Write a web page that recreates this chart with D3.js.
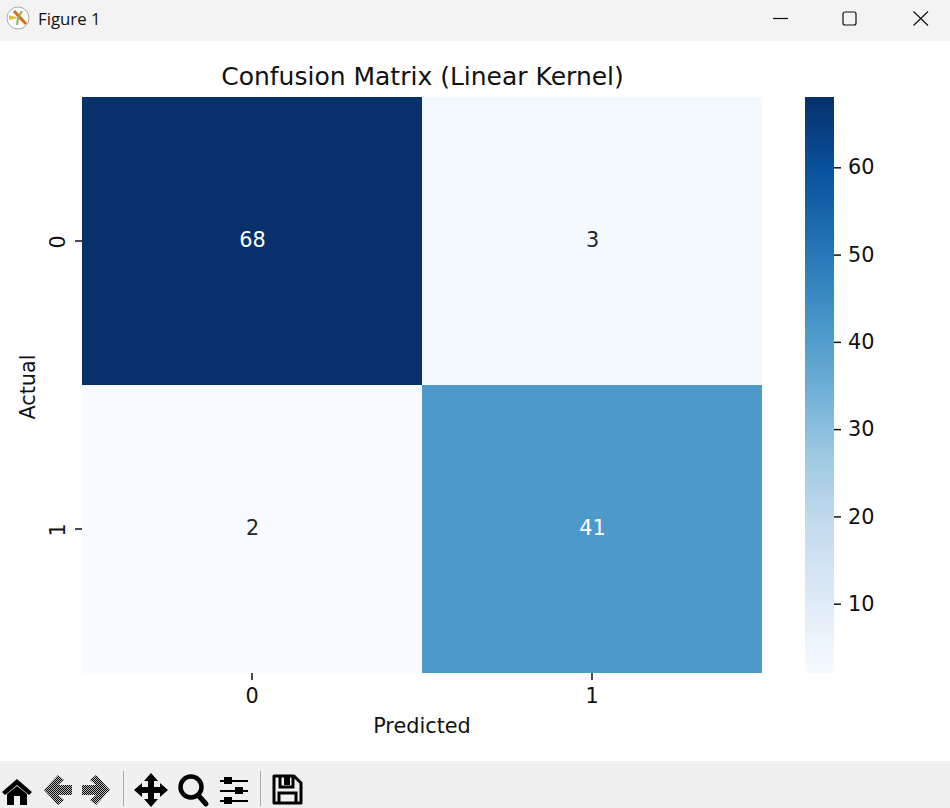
<!DOCTYPE html>
<html lang="en">
<head>
<meta charset="utf-8">
<title>Figure 1</title>
<style>
  html, body { margin: 0; padding: 0; background: #fff; overflow: hidden; }
  svg { display: block; }
  text { font-family: "DejaVu Sans", sans-serif; fill: #111; }
</style>
</head>
<body>
<div id="my_dataviz"></div>
<script src="https://d3js.org/d3.v7.min.js"></script>
<script>
  // data
  var actualLabels = ["0", "1"];
  var predictedLabels = ["0", "1"];
  var row0 = [68, 3];
  var row1 = [2, 41];
  var colorbarTicks = [10, 20, 30, 40, 50, 60];
  var chartTitle = "Confusion Matrix (Linear Kernel)";
  var blues = ["#f7fbff", "#deebf7", "#c6dbef", "#9ecae1", "#6baed6", "#4292c6", "#2171b5", "#08519c", "#08306b"];

  var rows = [row0, row1];
  var allValues = row0.concat(row1);
  var vmin = d3.min(allValues), vmax = d3.max(allValues);

  var svg = d3.select("#my_dataviz").append("svg")
    .attr("width", 950)
    .attr("height", 808);

  // matplotlib Blues, evenly spaced stops
  var color = d3.scaleLinear()
    .domain(blues.map(function(d, i) { return vmin + (vmax - vmin) * i / (blues.length - 1); }))
    .range(blues);

  var x = d3.scaleBand().domain(predictedLabels).range([82, 762]);
  var y = d3.scaleBand().domain(actualLabels).range([97, 673]);

  // heatmap cells
  rows.forEach(function(row, r) {
    var g = svg.append("g");
    g.selectAll("rect").data(row).enter().append("rect")
      .attr("x", function(d, c) { return x(predictedLabels[c]); })
      .attr("y", y(actualLabels[r]))
      .attr("width", x.bandwidth())
      .attr("height", y.bandwidth())
      .attr("fill", function(d) { return color(d); });
    g.selectAll("text").data(row).enter().append("text")
      .attr("x", function(d, c) { return x(predictedLabels[c]) + x.bandwidth() / 2 + 0.5; })
      .attr("y", y(actualLabels[r]) + y.bandwidth() / 2 - 1.5)
      .attr("dy", "0.36em")
      .attr("text-anchor", "middle")
      .style("font-size", "20.8px")
      .style("fill", function(d) { return d > (vmin + vmax) / 2 - 5 ? "#fff" : "#262626"; })
      .text(function(d) { return d; });
  });

  // axes
  function styleAxis(g) {
    g.select(".domain").remove();
    g.selectAll(".tick line").attr("stroke", "#111").attr("stroke-width", 1.5);
    g.selectAll("text").style("font-size", "20.8px").style("fill", "#111");
  }

  svg.append("g")
    .attr("transform", "translate(0,673)")
    .call(d3.axisBottom(x).tickSize(7).tickPadding(8))
    .call(styleAxis);

  svg.append("g")
    .attr("transform", "translate(82,0)")
    .call(d3.axisLeft(y).tickSize(7).tickPadding(7))
    .call(styleAxis)
    .selectAll("text")
    .attr("transform", "translate(-17,1) rotate(-90)")
    .attr("x", 0)
    .attr("text-anchor", "middle")
    .attr("dy", "0");

  svg.append("text")
    .attr("x", 422.5).attr("y", 85)
    .attr("text-anchor", "middle")
    .style("font-size", "25px")
    .text(chartTitle);

  svg.append("text")
    .attr("x", 422).attr("y", 733)
    .attr("text-anchor", "middle")
    .style("font-size", "20.8px")
    .text("Predicted");

  svg.append("text")
    .attr("transform", "translate(35,387) rotate(-90)")
    .attr("text-anchor", "middle")
    .style("font-size", "20.8px")
    .text("Actual");

  // colorbar
  var cbScale = d3.scaleLinear().domain([vmin, vmax]).range([673, 97]);
  var defs = svg.append("defs");
  var grad = defs.append("linearGradient")
    .attr("id", "cb").attr("x1", 0).attr("x2", 0).attr("y1", 1).attr("y2", 0);
  blues.forEach(function(c, i) {
    grad.append("stop").attr("offset", i / (blues.length - 1)).attr("stop-color", c);
  });
  svg.append("rect")
    .attr("x", 805).attr("y", 97).attr("width", 29).attr("height", 576)
    .attr("fill", "url(#cb)");
  svg.append("g")
    .attr("transform", "translate(834,0.5)")
    .call(d3.axisRight(cbScale).tickValues(colorbarTicks).tickSize(7).tickPadding(7))
    .call(styleAxis);

  // window title bar
  var titleBar = svg.append("g");
  titleBar.append("rect").attr("width", 950).attr("height", 41).attr("fill", "#f3f3f3");
  titleBar.append("circle").attr("cx", 18).attr("cy", 18).attr("r", 11).attr("fill", "#fff").attr("stroke", "#aaa");
  titleBar.append("path").attr("d", "M14 11L26 24").attr("stroke", "#e8641b").attr("stroke-width", 3);
  titleBar.append("path").attr("d", "M9 15L18 18L9 20Z").attr("fill", "#f2b632");
  titleBar.append("path").attr("d", "M18 18L22 11M18 18L17 25").attr("stroke", "#8ab84a").attr("stroke-width", 2);
  titleBar.append("text").attr("x", 38).attr("y", 25)
    .style("font-family", "'Open Sans', sans-serif").style("font-size", "16.8px").text("Figure 1");
  titleBar.append("path").attr("d", "M773 18.5H788").attr("stroke", "#111").attr("stroke-width", 1.2);
  titleBar.append("rect").attr("x", 843).attr("y", 12).attr("width", 13).attr("height", 13).attr("rx", 2)
    .attr("fill", "none").attr("stroke", "#111").attr("stroke-width", 1.2);
  titleBar.append("path").attr("d", "M913.5 11.5L928 25.5M928 11.5L913.5 25.5").attr("stroke", "#111").attr("stroke-width", 1.2);

  // toolbar
  var bar = svg.append("g");
  var pat = defs.append("pattern").attr("id", "dither")
    .attr("width", 2).attr("height", 2).attr("patternUnits", "userSpaceOnUse");
  pat.append("rect").attr("width", 2).attr("height", 2).attr("fill", "#bbb");
  pat.append("rect").attr("width", 1).attr("height", 1).attr("fill", "#000");
  pat.append("rect").attr("x", 1).attr("y", 1).attr("width", 1).attr("height", 1).attr("fill", "#000");

  bar.append("rect").attr("y", 761).attr("width", 950).attr("height", 47).attr("fill", "#f0f0f0");
  bar.append("path").attr("d", "M2 792L17 779L32 792L29 795L17 785L5 795ZM7 794L17 786L27 794V805H20V796H14V805H7Z").attr("fill", "#000");
  bar.append("path").attr("d", "M58 775L64 780L58 785H72V795H58L64 800L58 805L44 790Z").attr("fill", "url(#dither)");
  bar.append("path").attr("d", "M96 775L90 780L96 785H82V795H96L90 800L96 805L110 790Z").attr("fill", "url(#dither)");
  bar.append("path").attr("d", "M123.5 771V806M260.5 771V806").attr("stroke", "#aaa").attr("stroke-width", 1);
  bar.append("path")
    .attr("d", "M151 773L158 781H154V787H160V783L168 790L160 797V793H154V799H158L151 807L144 799H148V793H142V797L134 790L142 783V787H148V781H144Z")
    .attr("fill", "#000");
  bar.append("circle").attr("cx", 191).attr("cy", 787).attr("r", 10.5).attr("fill", "none").attr("stroke", "#000").attr("stroke-width", 4.5);
  bar.append("path").attr("d", "M198 795L206 804").attr("stroke", "#000").attr("stroke-width", 5).attr("stroke-linecap", "round");
  bar.append("path").attr("d", "M220 781H248M220 791H248M220 801H248").attr("stroke", "#000").attr("stroke-width", 2);
  bar.append("path").attr("d", "M224 777h8v7h-8zM235 787h8v7h-8zM224 797h8v7h-8z").attr("fill", "#000");
  bar.append("path").attr("d", "M274 776H294L301 783V803H274Z").attr("fill", "none").attr("stroke", "#000").attr("stroke-width", 3).attr("stroke-linejoin", "round");
  bar.append("path").attr("d", "M280 776V787H293V776M279 803V793H296V803").attr("fill", "none").attr("stroke", "#000").attr("stroke-width", 3);
  bar.append("rect").attr("x", 284).attr("y", 777).attr("width", 6).attr("height", 8).attr("fill", "#000");
</script>
</body>
</html>
